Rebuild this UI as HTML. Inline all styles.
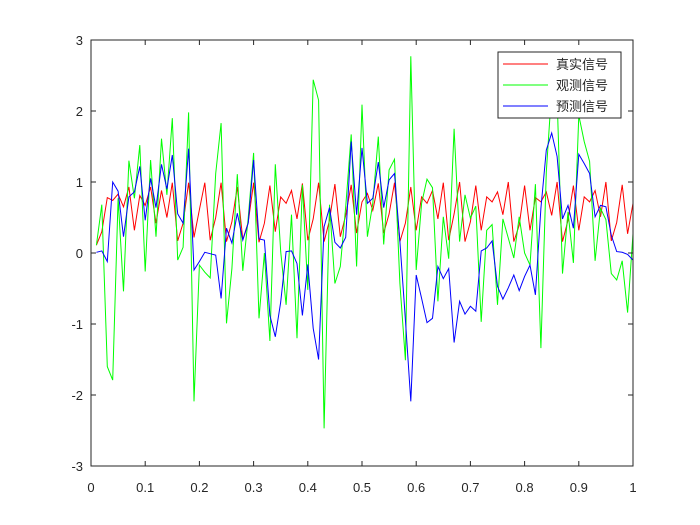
<!DOCTYPE html>
<html><head><meta charset="utf-8"><style>
body{margin:0;background:#fff}
svg{display:block}
text{font-family:"Liberation Sans","Noto Sans CJK SC",sans-serif;font-size:13px;fill:#262626}
</style></head><body>
<svg id="s" width="700" height="525" xmlns="http://www.w3.org/2000/svg">
<rect width="700" height="525" fill="#fff"/>
<g id="plot"></g>
<rect x="91" y="40" width="542" height="426" fill="none" stroke="#262626" stroke-width="1"/>
<g id="ax"></g>
<g>
<rect x="498" y="52" width="123" height="66" fill="#fff" stroke="#262626" stroke-width="1"/>
<line x1="503" y1="64" x2="548" y2="64" stroke="#f00"/>
<line x1="503" y1="85" x2="548" y2="85" stroke="#0f0"/>
<line x1="503" y1="106" x2="548" y2="106" stroke="#00f"/>
<text x="556" y="69">真实信号</text>
<text x="556" y="90">观测信号</text>
<text x="556" y="111">预测信号</text>
</g>
</svg>
<script>
var R=[0.11,0.3,0.78,0.74,0.83,0.65,0.93,0.32,0.81,0.67,0.93,0.42,0.88,0.5,0.99,0.17,0.42,0.99,0.22,0.61,0.99,0.18,0.5,0.99,0.16,0.44,0.93,0.19,0.43,0.99,0.15,0.42,0.95,0.3,0.79,0.7,0.88,0.48,0.98,0.18,0.48,0.99,0.16,0.46,0.97,0.23,0.53,0.96,0.28,0.72,0.84,0.6,0.98,0.28,0.55,0.99,0.16,0.42,0.93,0.32,0.79,0.7,0.88,0.48,0.99,0.18,0.55,1.0,0.16,0.44,0.95,0.32,0.79,0.72,0.86,0.54,1.0,0.16,0.39,0.95,0.32,0.78,0.72,0.86,0.53,1.0,0.16,0.46,0.95,0.32,0.79,0.72,0.88,0.51,1.0,0.17,0.43,0.96,0.27,0.7];
var G=[0.11,0.68,-1.6,-1.79,0.77,-0.54,1.3,0.77,1.52,-0.26,1.31,0.23,1.61,0.82,1.9,-0.1,0.08,1.98,-2.09,-0.17,-0.27,-0.35,1.12,1.83,-0.99,-0.22,1.11,-0.25,0.49,1.41,-0.92,0,-1.24,1.25,0.02,-0.73,0.54,-1.2,0.96,-0.52,2.44,2.15,-2.47,0.68,-0.43,-0.19,0.65,1.67,-0.19,2.09,0.23,0.7,1.64,0.12,1.17,1.32,-0.43,-1.51,2.77,-0.24,0.7,1.04,0.92,-0.68,0.51,-0.08,1.75,0.16,0.82,0.49,0.66,-0.97,0.32,0.4,-0.73,0.48,0.21,-0.07,0.51,0,-0.17,0.97,-1.34,1.14,2.3,2.2,-0.29,0.58,-0.14,1.94,1.57,1.29,-0.11,0.63,0.47,-0.29,-0.38,-0.11,-0.84,0.27];
var B=[0.01,0.03,-0.12,1.0,0.87,0.23,0.79,0.86,1.22,0.46,1.05,0.64,1.25,0.9,1.38,0.55,0.42,1.47,-0.24,-0.12,0.01,-0.01,-0.03,-0.64,0.35,0.14,0.56,0.18,0.42,1.31,0.2,0.18,-0.88,-1.18,-0.69,0.02,0.03,-0.15,-0.88,-0.16,-1.06,-1.5,0.37,0.64,0.15,0.07,0.22,1.57,0.54,1.48,0.7,0.77,1.28,0.64,1.03,1.12,0.16,-0.94,-2.09,-0.31,-0.64,-0.98,-0.92,-0.19,-0.36,-0.22,-1.26,-0.68,-0.86,-0.75,-0.82,0.03,0.07,0.17,-0.47,-0.65,-0.49,-0.31,-0.53,-0.33,-0.17,-0.59,0.63,1.45,1.69,1.36,0.48,0.67,0.35,1.39,1.26,1.12,0.51,0.67,0.65,0.25,0.02,0.01,-0.02,-0.1];
var NS="http://www.w3.org/2000/svg";
function X(t){return 91+542*t}function Y(v){return 253-71*v}
var plot=document.getElementById("plot");
[[R,"#f00"],[G,"#0f0"],[B,"#00f"]].forEach(function(p){
 var pts=p[0].map(function(v,i){return X((i+1)/100).toFixed(1)+","+Y(v).toFixed(1)}).join(" ");
 var e=document.createElementNS(NS,"polyline");e.setAttribute("points",pts);e.setAttribute("fill","none");e.setAttribute("stroke",p[1]);e.setAttribute("stroke-width","1");plot.appendChild(e);
});
var ax=document.getElementById("ax");
function add(tag,a,txt){var e=document.createElementNS(NS,tag);for(var k in a)e.setAttribute(k,a[k]);if(txt!==undefined)e.textContent=txt;ax.appendChild(e);}
for(var i=0;i<=10;i++){var x=X(i/10);
 add("line",{x1:x,y1:466,x2:x,y2:461,stroke:"#262626"});
 add("line",{x1:x,y1:40,x2:x,y2:45,stroke:"#262626"});
 add("text",{x:x,y:492,"text-anchor":"middle"},i==0?"0":i==10?"1":(i/10).toString());}
for(var v=-3;v<=3;v++){var y=Y(v);
 add("line",{x1:91,y1:y,x2:96,y2:y,stroke:"#262626"});
 add("line",{x1:633,y1:y,x2:628,y2:y,stroke:"#262626"});
 add("text",{x:83,y:y+5,"text-anchor":"end"},String(v));}
</script>
</body></html>
